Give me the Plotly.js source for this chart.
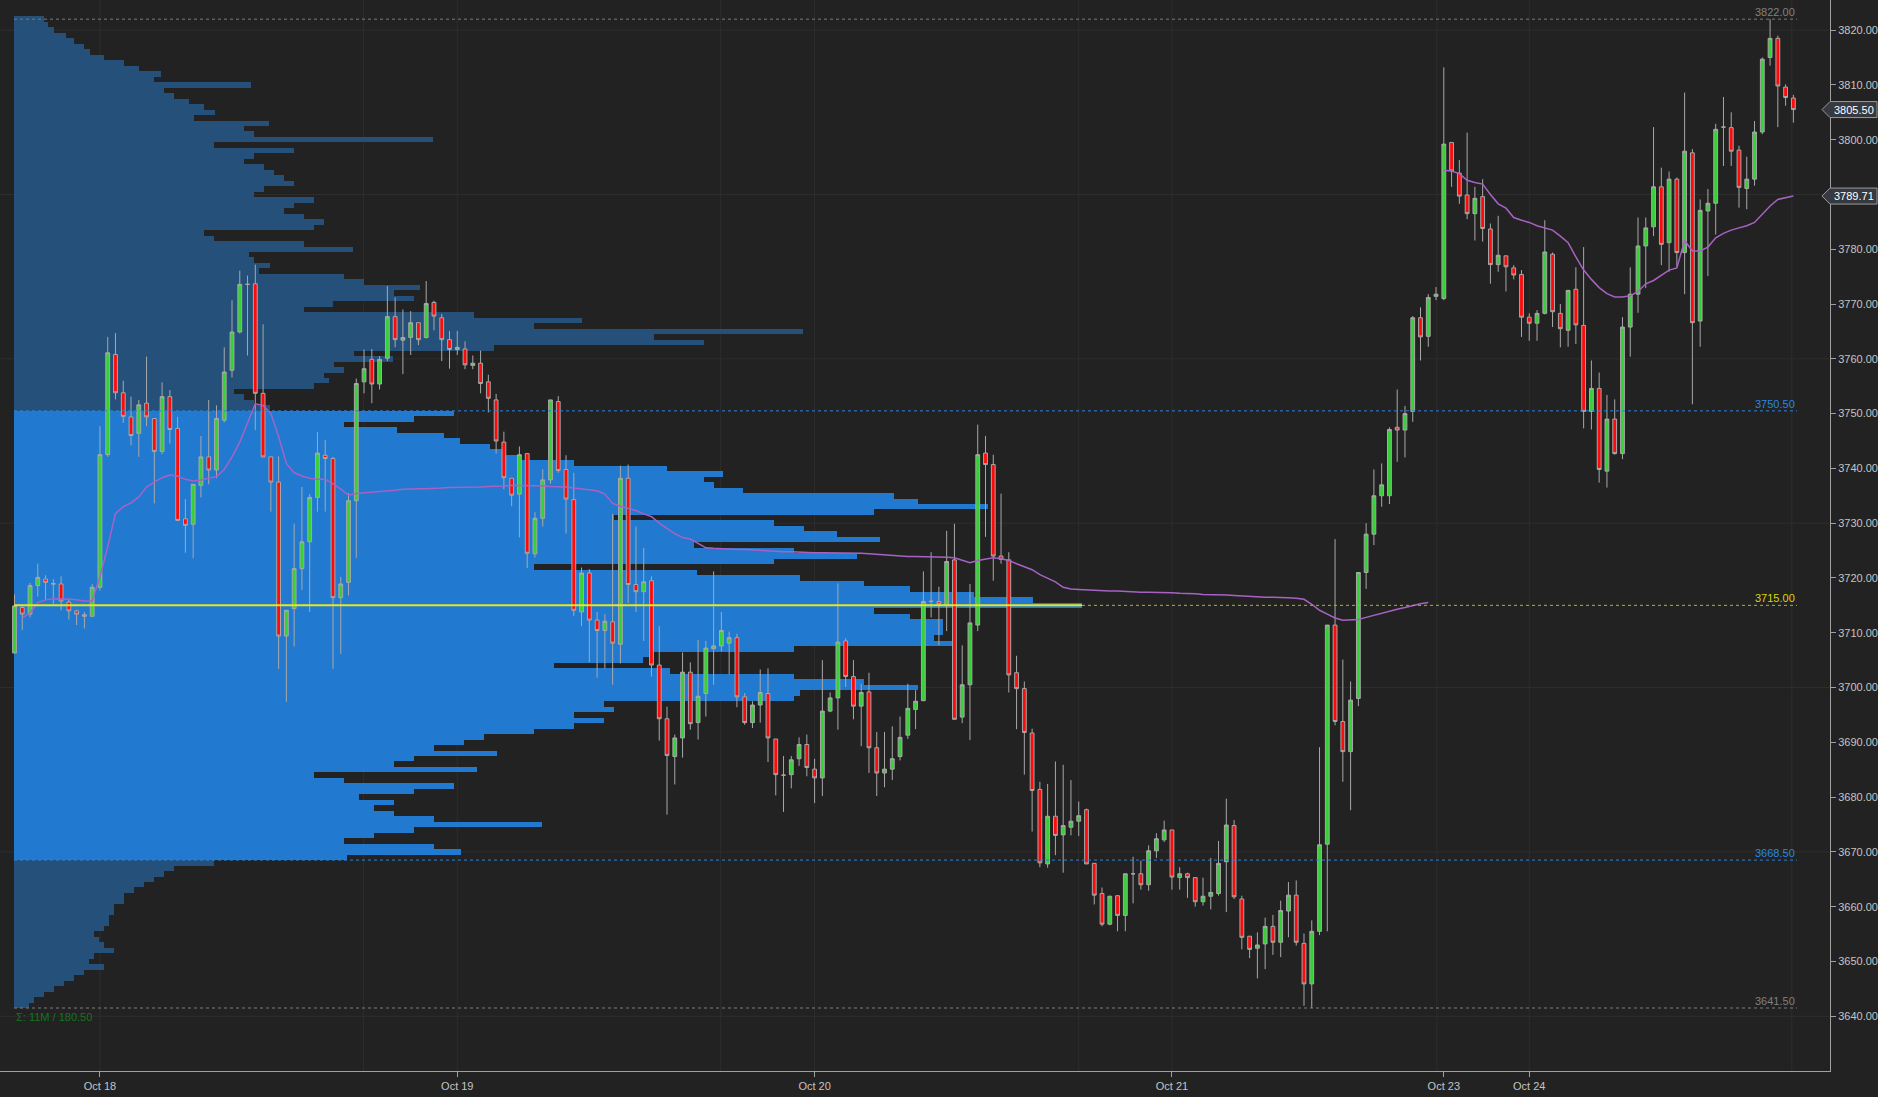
<!DOCTYPE html>
<html>
<head>
<meta charset="utf-8">
<script src="https://cdn.plot.ly/plotly-2.35.2.min.js"></script>
<style>html,body{margin:0;padding:0;background:#222222;}#chart{width:1878px;height:1097px;}</style>
</head>
<body>
<div id="chart"></div>
<script>
// ---------- 30-minute OHLC bars (ES futures), bar index 0..229 ----------
const OPEN = [3706.3,3714.6,3713.4,3718.6,3719.8,3719.0,3718.9,3715.6,3714.0,3713.3,3713.0,3718.3,3742.5,3760.8,3753.8,3749.4,3746.4,3751.9,3749.1,3743.1,
3753.1,3747.3,3730.8,3729.8,3736.9,3742.1,3739.7,3748.8,3757.9,3764.9,3773.6,3773.7,3753.7,3742.1,3737.5,3709.4,3714.4,3721.7,3726.6,3734.7,
3742.4,3741.8,3716.4,3719.2,3734.1,3755.8,3759.9,3755.4,3760.1,3767.7,3763.4,3763.9,3766.6,3763.9,3770.3,3767.5,3763.5,3761.7,3761.8,3758.8,
3759.2,3755.8,3752.5,3744.8,3738.2,3735.3,3742.7,3724.4,3730.9,3737.9,3752.2,3739.8,3734.3,3713.8,3720.9,3712.3,3710.4,3712.0,3707.9,3738.2,
3718.8,3717.5,3719.5,3704.1,3694.3,3687.4,3690.8,3702.8,3693.6,3698.9,3707.1,3707.6,3708.1,3709.1,3698.3,3693.6,3696.8,3698.9,3690.6,3684.0,
3684.1,3687.0,3689.6,3685.1,3683.5,3695.7,3698.1,3708.5,3702.0,3696.6,3699.2,3689.0,3684.4,3685.1,3687.4,3691.3,3696.0,3697.6,3715.7,3715.7,
3715.0,3723.3,3694.6,3700.5,3711.4,3742.8,3740.7,3724.0,3723.3,3702.7,3699.8,3691.7,3681.4,3667.8,3676.5,3673.1,3674.5,3675.6,3677.7,3667.9,
3662.4,3656.8,3662.0,3658.4,3666.0,3666.0,3664.0,3670.2,3672.2,3674.0,3665.3,3666.0,3665.3,3660.9,3661.9,3662.4,3668.2,3674.8,3661.4,3654.6,
3652.4,3653.2,3656.4,3653.5,3659.2,3662.1,3653.3,3645.9,3655.5,3671.4,3711.4,3693.8,3688.3,3698.0,3721.0,3728.0,3735.0,3735.0,3747.5,3747.0,
3750.4,3767.5,3764.1,3771.4,3771.0,3799.5,3793.9,3789.9,3786.5,3789.6,3783.7,3777.2,3778.8,3776.6,3775.4,3767.6,3766.5,3768.3,3779.1,3768.3,
3765.2,3772.7,3766.1,3750.4,3754.6,3739.5,3749.0,3742.7,3765.8,3771.8,3780.6,3784.1,3791.4,3781.2,3792.8,3779.4,3797.6,3766.9,3787.0,3788.4,
3802.3,3802.2,3798.1,3791.1,3792.8,3801.4,3815.0,3818.5,3809.6,3807.6];
const HIGH = [3717.0,3714.8,3719.1,3722.6,3720.5,3719.8,3720.3,3716.0,3714.2,3713.8,3718.9,3747.7,3764.0,3764.7,3756.0,3753.1,3752.5,3760.4,3749.1,3755.7,
3754.3,3749.4,3734.4,3737.1,3745.9,3752.5,3751.5,3762.1,3770.7,3776.1,3775.2,3777.2,3766.3,3742.1,3742.2,3714.1,3729.9,3736.6,3735.3,3746.6,
3745.2,3742.1,3720.2,3735.5,3756.4,3761.7,3761.8,3760.5,3773.3,3771.2,3769.0,3768.7,3766.6,3774.2,3770.6,3768.2,3765.1,3765.1,3763.2,3760.6,
3761.5,3757.1,3753.6,3746.7,3738.2,3744.0,3742.7,3732.0,3739.8,3752.5,3753.2,3742.4,3739.2,3721.9,3721.6,3713.8,3713.4,3731.7,3740.5,3740.7,
3729.4,3725.5,3720.3,3711.2,3696.5,3691.4,3706.4,3704.6,3708.7,3708.5,3721.2,3713.8,3710.2,3709.8,3699.0,3697.5,3703.3,3703.5,3690.6,3687.5,
3687.5,3690.9,3691.4,3687.0,3705.0,3699.1,3719.0,3709.0,3705.0,3700.7,3702.7,3691.9,3691.9,3692.9,3694.7,3700.7,3699.5,3721.2,3724.7,3718.4,
3728.6,3729.9,3707.7,3718.9,3748.0,3745.9,3742.5,3735.4,3724.7,3705.8,3701.1,3692.5,3682.8,3682.4,3686.5,3685.9,3683.1,3679.2,3677.9,3667.9,
3663.5,3662.0,3662.0,3666.0,3669.1,3668.4,3671.2,3673.4,3675.7,3674.0,3667.2,3666.2,3665.3,3665.3,3668.9,3672.0,3679.7,3675.8,3662.0,3654.6,
3655.3,3658.0,3658.5,3661.1,3664.5,3664.8,3655.1,3657.5,3689.1,3711.4,3727.1,3705.1,3701.1,3721.0,3730.0,3739.8,3740.9,3747.5,3754.4,3751.4,
3767.8,3769.4,3771.8,3773.1,3813.2,3799.5,3796.3,3801.3,3791.4,3792.8,3784.7,3786.1,3778.8,3777.1,3776.2,3768.3,3768.9,3785.3,3779.4,3770.0,
3772.5,3776.7,3780.4,3759.7,3757.5,3753.4,3752.6,3767.6,3776.7,3785.8,3785.8,3802.3,3794.9,3794.2,3793.1,3808.6,3798.3,3789.1,3791.0,3802.9,
3807.8,3805.0,3798.9,3796.9,3803.4,3815.0,3822.0,3819.0,3810.1,3808.2];
const LOW = [3706.3,3710.5,3712.8,3716.6,3716.0,3715.3,3714.1,3712.4,3711.4,3710.8,3712.9,3717.7,3742.1,3752.6,3748.3,3744.2,3742.1,3747.7,3733.6,3742.6,
3744.5,3730.5,3724.6,3723.6,3734.7,3737.1,3738.2,3748.4,3756.6,3764.6,3760.6,3747.0,3742.1,3732.1,3703.4,3697.4,3707.5,3717.8,3713.8,3732.1,
3732.1,3703.4,3706.1,3716.8,3723.6,3753.7,3751.9,3754.4,3759.6,3762.1,3757.2,3760.7,3762.5,3763.7,3765.2,3759.6,3758.2,3760.7,3758.1,3758.1,
3753.7,3750.2,3742.7,3736.2,3733.1,3727.4,3721.8,3723.7,3729.4,3737.2,3739.2,3728.1,3713.1,3711.2,3704.6,3701.8,3703.5,3700.5,3704.4,3715.4,
3713.8,3708.5,3702.0,3690.3,3676.8,3682.3,3687.2,3692.3,3690.5,3694.7,3700.5,3706.6,3702.4,3696.4,3693.2,3692.6,3693.6,3686.4,3680.3,3677.3,
3681.6,3685.7,3683.8,3678.9,3680.2,3695.5,3692.3,3700.1,3694.2,3689.3,3684.4,3680.2,3681.8,3683.1,3686.7,3690.6,3692.4,3697.5,3712.8,3707.7,
3710.3,3694.2,3693.5,3690.4,3710.3,3727.5,3719.5,3722.6,3699.1,3692.4,3684.1,3673.7,3667.2,3667.1,3669.4,3666.2,3673.0,3672.9,3667.8,3660.4,
3656.4,3656.6,3655.5,3655.5,3660.6,3663.1,3662.9,3668.9,3671.8,3663.1,3663.1,3661.6,3660.0,3660.2,3659.5,3662.0,3659.0,3661.4,3652.2,3650.6,
3646.9,3648.6,3651.2,3650.8,3654.4,3652.9,3641.9,3641.5,3654.8,3655.5,3693.1,3682.8,3677.6,3696.6,3718.0,3726.0,3733.0,3733.5,3741.2,3742.0,
3748.5,3759.7,3762.2,3770.7,3770.7,3791.4,3788.3,3785.5,3781.6,3781.4,3773.7,3775.9,3772.3,3774.5,3764.0,3763.3,3763.3,3768.1,3765.8,3762.1,
3762.2,3762.7,3747.3,3747.1,3737.4,3736.5,3742.5,3741.7,3760.4,3768.4,3772.9,3782.4,3777.1,3775.9,3776.8,3771.8,3751.7,3762.2,3775.1,3782.7,
3795.2,3795.2,3787.6,3787.3,3791.6,3801.0,3813.5,3802.3,3806.2,3803.1];
const CLOSE = [3714.9,3713.4,3718.6,3720.1,3719.2,3718.9,3715.8,3714.0,3713.4,3713.0,3718.3,3742.5,3761.1,3753.8,3749.5,3746.0,3751.6,3749.4,3743.1,3753.1,
3747.1,3730.5,3729.6,3737.1,3742.1,3739.7,3749.1,3757.6,3764.9,3773.6,3773.6,3753.7,3742.1,3737.5,3709.4,3714.1,3721.7,3726.6,3734.7,3742.8,
3741.8,3716.4,3718.9,3734.1,3755.5,3758.2,3755.4,3759.9,3767.7,3763.5,3763.9,3766.6,3763.5,3770.1,3767.8,3763.5,3761.7,3762.1,3758.9,3759.2,
3755.5,3752.8,3745.0,3738.3,3735.1,3742.5,3724.5,3730.9,3737.9,3752.5,3739.6,3734.4,3714.1,3720.9,3712.3,3710.4,3712.1,3708.1,3738.2,3718.8,
3717.5,3719.3,3704.1,3694.3,3687.6,3690.8,3702.8,3693.4,3698.4,3707.2,3707.6,3710.4,3709.1,3698.3,3693.6,3696.8,3699.1,3690.8,3684.1,3684.0,
3686.8,3689.6,3685.4,3683.5,3695.7,3698.1,3708.3,3702.0,3696.6,3699.1,3689.0,3684.4,3685.1,3687.0,3690.9,3696.2,3697.5,3715.7,3715.75,3715.2,
3723.0,3694.2,3700.5,3711.8,3742.5,3740.7,3724.0,3723.4,3702.3,3699.8,3691.8,3681.2,3668.0,3676.5,3673.0,3674.8,3675.6,3676.6,3667.8,3662.1,
3656.8,3661.9,3658.4,3666.0,3666.0,3664.0,3670.2,3672.4,3674.0,3665.4,3666.0,3665.3,3660.9,3661.9,3662.6,3667.9,3674.9,3661.8,3654.4,3652.2,
3653.0,3656.4,3653.5,3659.3,3662.1,3653.5,3645.9,3655.5,3671.3,3711.4,3693.8,3688.3,3697.7,3721.0,3728.0,3735.0,3737.0,3747.1,3747.0,3750.0,
3767.5,3764.0,3771.2,3771.8,3799.2,3794.3,3789.7,3786.5,3789.3,3783.8,3777.2,3778.9,3776.8,3775.3,3767.6,3766.5,3768.3,3779.5,3768.6,3765.5,
3772.5,3766.2,3750.4,3754.6,3739.8,3749.0,3742.7,3765.8,3771.8,3780.6,3783.9,3791.4,3780.9,3792.8,3779.4,3797.9,3766.6,3787.1,3788.4,3801.9,
3802.3,3797.9,3791.3,3792.8,3801.4,3814.7,3818.5,3809.8,3807.7,3805.5];

// ---------- VWAP (weekly; restarts with the Sunday session) ----------
const VWAP = [null,3712.7,3713.6,3715.5,3716.0,3716.2,3716.2,3716.1,3716.0,3715.8,3715.8,3720.2,3725.7,3731.8,3733.0,3733.7,3734.8,3736.6,3737.5,3738.3,
3738.8,3738.6,3738.0,3737.7,3737.9,3738.2,3738.5,3739.8,3742.1,3744.8,3748.2,3751.8,3751.5,3750.0,3745.8,3740.9,3739.2,3738.6,3738.2,3738.0,
3738.0,3737.2,3736.2,3735.1,3735.4,3735.5,3735.6,3735.7,3735.9,3736.0,3736.2,3736.3,3736.3,3736.3,3736.3,3736.4,3736.5,3736.5,3736.6,3736.6,
3736.6,3736.7,3736.7,3736.8,3736.9,3736.9,3736.9,3736.8,3736.8,3736.7,3736.7,3736.6,3736.4,3736.2,3736.1,3735.9,3735.3,3733.6,3733.1,3732.7,
3732.3,3731.7,3731.2,3730.0,3729.1,3728.1,3727.4,3727.1,3726.3,3725.5,3725.4,3725.3,3725.3,3725.2,3725.2,3725.1,3725.0,3724.9,3724.8,3724.8,
3724.8,3724.7,3724.6,3724.6,3724.6,3724.6,3724.6,3724.6,3724.6,3724.5,3724.4,3724.3,3724.2,3724.1,3723.9,3723.9,3723.9,3723.9,3723.9,3723.8,
3723.8,3723.7,3723.2,3722.8,3723.2,3723.5,3723.7,3723.5,3723.2,3722.6,3722.1,3721.5,3720.6,3719.9,3719.3,3718.3,3718.0,3717.9,3717.8,3717.7,
3717.7,3717.6,3717.6,3717.5,3717.5,3717.4,3717.4,3717.4,3717.4,3717.3,3717.2,3717.2,3717.1,3717.0,3717.0,3716.9,3716.9,3716.8,3716.7,3716.6,
3716.6,3716.5,3716.5,3716.5,3716.4,3716.3,3716.1,3715.2,3714.1,3713.4,3712.7,3712.3,3712.3,3712.4,3712.8,3713.2,3713.6,3714.0,3714.3,3714.6,
3715.0,3715.3,3715.5,null,3794.4,3794.3,3793.8,3792.6,3792.2,3791.9,3790.0,3788.3,3787.5,3785.8,3785.3,3784.9,3784.3,3783.9,3783.5,3782.4,
3781.2,3778.6,3776.2,3774.5,3773.0,3771.9,3771.3,3771.3,3771.5,3772.3,3773.7,3774.3,3775.3,3776.2,3776.6,3781.6,3779.7,3779.7,3780.4,3782.1,
3782.9,3783.5,3783.9,3784.3,3784.9,3786.4,3787.9,3789.1,3789.4,3789.71];

// ---------- Volume profile (hundreds of contracts per 1-point row), from 3822 down to 3642 ----------
const PROFILE_TOP = 3822;
const PROFILE_STEP = 1;
const PROFILE_VOL = [
// 3822 .. 3803
30,34,40,52,60,70,76,90,110,125,147,140,237,150,160,175,190,201,180,255,
// 3802 .. 3783
230,240,419,200,280,240,230,250,260,270,280,250,240,300,280,270,290,310,300,190,
// 3782 .. 3763
200,290,339,235,240,256,245,330,350,406,380,400,319,290,460,568,520,789,640,690,
// 3762 .. 3751
480,340,379,320,330,310,315,300,220,230,240,256,
// value area 3750 .. 3731
440,400,330,383,430,446,476,490,503,560,653,709,690,700,729,880,904,974,860,600,
// 3730 .. 3711
760,790,823,866,680,780,843,760,520,683,786,850,896,960,1019,1068,860,896,929,929,
// 3710 .. 3691
929,920,938,780,640,629,540,656,780,850,904,786,780,590,600,560,590,560,520,470,
// 3690 .. 3669
450,420,483,400,380,463,300,330,440,400,345,380,360,380,420,528,400,360,330,420,447,333,
// 3668 .. 3642
200,160,150,140,130,120,110,110,100,100,95,95,90,80,85,90,100,80,75,90,
70,60,50,40,30,20,15];

// ---------- Key levels ----------
const PROFILE_HIGH = 3822.00;
const PROFILE_LOW = 3641.50;
const VA_HIGH = 3750.50;
const VA_LOW = 3668.50;
const SUMMARY = "Σ: 11M / 180.50";

// ---------- Axes ----------
const Y_TICKS = [3640,3650,3660,3670,3680,3690,3700,3710,3720,3730,3740,3750,3760,3770,3780,3800,3810,3820];
const Y_GRID = [3640,3670,3700,3730,3760,3790,3820];
const X_TICK_IDX = [11,57,103,149,184,195];
const X_TICK_TEXT = ['Oct 18','Oct 19','Oct 20','Oct 21','Oct 23','Oct 24'];
const X_GRID_IDX = [11,44.94,57,90.9,103,137,149,183.1,195,228.8];

// ---------- Build ----------
const idx = OPEN.map((_, i) => i);
const profPrices = PROFILE_VOL.map((_, i) => PROFILE_TOP - i * PROFILE_STEP);
const profColors = profPrices.map(p => (p > VA_LOW && p < VA_HIGH) ? '#217ad0' : '#245079');
const maxVol = Math.max(...PROFILE_VOL);
const pocPrice = profPrices[PROFILE_VOL.indexOf(maxVol)];
const lastClose = CLOSE[CLOSE.length - 1];
const lastVwap = VWAP[VWAP.length - 1];

// plot area: 1830 px wide; profile starts 14 px in, POC bar is 1068 px long
const PLOT_W = 1830, PROF_X0 = 14, POC_LEN = 1068, LEVEL_END = 1797;
const volPerPx = maxVol / POC_LEN;
const xVolRange = [-PROF_X0 * volPerPx, (PLOT_W - PROF_X0) * volPerPx];
const barPx = 7.768, firstBarPx = 14.5;
const xIdxRange = [-firstBarPx / barPx, (PLOT_W - firstBarPx) / barPx];
const pxPerPt = 1071 / (3825.5 - 3630);

const profileTrace = {
  type: 'bar', orientation: 'h', xaxis: 'x', yaxis: 'y',
  y: profPrices, x: PROFILE_VOL, width: PROFILE_STEP,
  marker: {color: profColors, line: {width: 0}}, hoverinfo: 'skip'
};
const candleTrace = {
  type: 'candlestick', xaxis: 'x2', yaxis: 'y',
  x: idx, open: OPEN, high: HIGH, low: LOW, close: CLOSE,
  increasing: {line: {color: '#a8a8a8', width: 1}, fillcolor: '#35d235'},
  decreasing: {line: {color: '#a8a8a8', width: 1}, fillcolor: '#ff0a0a'},
  whiskerwidth: 0, hoverinfo: 'skip'
};
const vwapTrace = {
  type: 'scatter', mode: 'lines', xaxis: 'x2', yaxis: 'y',
  x: idx, y: VWAP, line: {color: '#a862c4', width: 1.5}, connectgaps: false, hoverinfo: 'skip'
};

const shapes = [];
Y_GRID.forEach(v => shapes.push({type:'line', xref:'paper', yref:'y', x0:0, x1:1, y0:v, y1:v, layer:'below', line:{color:'#2e2e2e', width:1}}));
X_GRID_IDX.forEach(v => shapes.push({type:'line', xref:'x2', yref:'paper', x0:v, x1:v, y0:0, y1:1, layer:'below', line:{color:'#2e2e2e', width:1}}));
const px0 = PROF_X0 / PLOT_W, px1 = LEVEL_END / PLOT_W;
function level(v, color) {
  shapes.push({type:'line', xref:'paper', yref:'y', x0:px0, x1:px1, y0:v, y1:v, line:{color:color, width:1, dash:'dot'}});
}
level(PROFILE_HIGH, '#7c7c7c');
level(VA_HIGH, '#2c82d8');
level(VA_LOW, '#2c82d8');
level(PROFILE_LOW, '#7c7c7c');
shapes.push({type:'line', xref:'x', yref:'y', x0:maxVol, x1:(LEVEL_END - PROF_X0) * volPerPx, y0:pocPrice, y1:pocPrice, line:{color:'#b8b800', width:1, dash:'dot'}});
shapes.push({type:'line', xref:'x', yref:'y', x0:0, x1:maxVol, y0:pocPrice, y1:pocPrice, line:{color:'#e6e61e', width:2}});

// price tags on the right axis
function tag(v) {
  const h = 8 / pxPerPt;
  const a = 1822 / PLOT_W, b = 1830 / PLOT_W, c = 1877 / PLOT_W;
  shapes.push({type:'path', xref:'paper', yref:'y',
    path:`M ${a},${v} L ${b},${v + h} L ${c},${v + h} L ${c},${v - h} L ${b},${v - h} Z`,
    fillcolor:'#363940', line:{color:'#9a9a9a', width:1}});
}
tag(lastClose);
tag(lastVwap);

const annotations = [];
function levelLabel(v, color) {
  annotations.push({xref:'paper', yref:'y', x:px1, y:v, xanchor:'right', yanchor:'bottom', yshift:-1,
    text:v.toFixed(2), showarrow:false, font:{family:'Arial, Liberation Sans, sans-serif', size:11, color:color}});
}
levelLabel(PROFILE_HIGH, '#808080');
levelLabel(VA_HIGH, '#2c86e0');
levelLabel(pocPrice, '#d8d800');
levelLabel(VA_LOW, '#2c86e0');
levelLabel(PROFILE_LOW, '#808080');
[lastClose, lastVwap].forEach(v => annotations.push({xref:'paper', yref:'y', x:1876 / PLOT_W, y:v, xanchor:'right', yanchor:'middle',
  text:v.toFixed(2), showarrow:false, font:{family:'Arial, Liberation Sans, sans-serif', size:11, color:'#ffffff'}}));
annotations.push({xref:'paper', yref:'y', x:px0, y:PROFILE_LOW, xanchor:'left', yanchor:'top', yshift:-1,
  text:SUMMARY, showarrow:false, font:{family:'Arial, Liberation Sans, sans-serif', size:11, color:'#12761a'}});

const axisFont = {family:'Arial, Liberation Sans, sans-serif', size:11, color:'#c4c4c4'};
const layout = {
  width:1878, height:1097,
  paper_bgcolor:'#222222', plot_bgcolor:'#222222',
  margin:{l:0, r:48, t:0, b:26, pad:0},
  showlegend:false, bargap:0,
  xaxis:{range:xVolRange, visible:false, fixedrange:true, rangeslider:{visible:false}},
  xaxis2:{overlaying:'x', anchor:'y', side:'bottom', type:'linear', range:xIdxRange,
    tickmode:'array', tickvals:X_TICK_IDX, ticktext:X_TICK_TEXT,
    showgrid:false, zeroline:false, showline:true, linecolor:'#a0a0a0', linewidth:1,
    ticks:'outside', ticklen:5, tickcolor:'#a0a0a0', tickfont:axisFont, rangeslider:{visible:false}},
  yaxis:{side:'right', range:[3630, 3825.5], tickmode:'array', tickvals:Y_TICKS,
    tickformat:'.2f', showgrid:false, zeroline:false, showline:true, linecolor:'#a0a0a0', linewidth:1,
    ticks:'outside', ticklen:5, tickcolor:'#a0a0a0', tickfont:axisFont},
  shapes:shapes, annotations:annotations
};
Plotly.newPlot('chart', [profileTrace, candleTrace, vwapTrace], layout, {displayModeBar:false, staticPlot:true});
</script>
</body>
</html>
